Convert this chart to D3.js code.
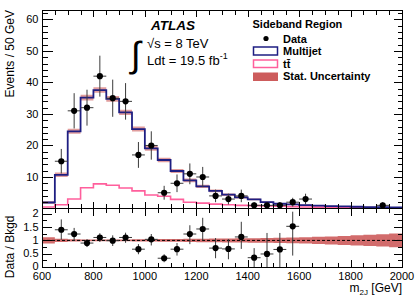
<!DOCTYPE html>
<html><head><meta charset="utf-8">
<script src="https://cdn.jsdelivr.net/npm/d3@7"></script>
<style>body{margin:0;background:#fff} svg{display:block} text{font-family:'Liberation Sans',Arial,Helvetica,sans-serif;fill:#000}</style>
</head><body><svg id="c" width="415" height="298"></svg>
<script>
// ---- data ----
const binEdges=[600,650,700,750,800,850,900,950,1000,1050,1100,1150,1200,1250,1300,1350,1400,1450,1500,1550,1600,1650,1700,1750,1800,1850,1900,1950,2000];
const multijet=[1.9,10.7,24.5,35.2,37.6,34.8,30.5,25.2,19.1,15.4,11.9,8.9,7.0,5.6,4.4,3.5,2.9,2.0,1.5,1.3,1.1,0.9,0.75,0.65,0.55,0.45,0.4,0.35];
const ttbar=[0.5,1.2,3.0,6.6,7.8,7.4,6.5,5.6,4.3,3.9,2.9,2.0,1.7,1.4,1.2,1.0,0.9,0.8,0.7,0.6,0.5,0.45,0.4,0.35,0.3,0.25,0.2,0.2];
const bkgStatErr=[0.4,0.7,0.8,0.9,0.9,0.9,0.85,0.8,0.75,0.7,0.65,0.6,0.5,0.45,0.4,0.35,0.3,0.25,0.2,0.18,0.15,0.14,0.12,0.11,0.1,0.1,0.09,0.09];
const ratioBand=[0.12,0.06,0.04,0.035,0.035,0.035,0.035,0.04,0.045,0.05,0.055,0.06,0.065,0.07,0.075,0.08,0.085,0.09,0.1,0.11,0.12,0.135,0.15,0.17,0.19,0.21,0.23,0.26];
const dataX=[675,725,775,825,875,925,975,1025,1075,1125,1175,1225,1275,1325,1375,1425,1475,1525,1575,1625,1925];
const dataY=[15,31,32,42,35,34,17,20,5,8,11,10,4,3,4,1,1,1,2,3,1];
const dataErr=[3.9,5.6,5.7,6.5,5.9,5.8,4.1,4.5,2.2,2.8,3.3,3.2,2.0,1.7,2.0,1.0,1.0,1.0,1.4,1.7,1.0];
const ratioX=[675,725,775,825,875,925,975,1025,1075,1125,1175,1225,1275,1325,1375,1425,1475,1525,1575];
const ratioY=[1.40,1.24,0.90,1.11,0.99,1.11,0.67,1.04,0.33,0.67,1.24,1.43,0.71,0.68,1.13,0.35,0.49,0.66,1.53];
const ratioLo=[1.03,0.99,0.75,0.94,0.79,0.91,0.48,0.81,0.18,0.43,0.86,0.99,0.33,0.29,0.68,0.0,0.0,0.0,0.43];
const ratioHi=[1.79,1.47,1.05,1.27,1.19,1.29,0.86,1.24,0.48,0.90,1.57,1.85,1.09,1.05,1.70,0.71,1.28,1.28,2.08];
const xTickLabels=[600,800,1000,1200,1400,1600,1800,2000];
const yTicksTop=[10,20,30,40,50,60];
const yTicksRatio=[0,0.5,1,1.5,2];

// ---- layout ----
const svg=d3.select('#c');
const L=42,R=402,T=10,MID=208.5,B=267;
const x=d3.scaleLinear().domain([600,2000]).range([L,R]);
const y=d3.scaleLinear().domain([0,63]).range([MID,T]);
const yr=d3.scaleLinear().domain([0,2.2]).range([B,MID]);
const blue='#1e1e82', pink='#ff5f9c', band='#cd5c5c';

svg.append('defs').html(`<clipPath id="ct"><rect x="${L}" y="${T}" width="${R-L}" height="${MID-T}"/></clipPath><clipPath id="cr"><rect x="${L}" y="${MID}" width="${R-L}" height="${B-MID}"/></clipPath>`);
const gt=svg.append('g').attr('clip-path','url(#ct)');
const gr=svg.append('g').attr('clip-path','url(#cr)');

function stepPts(vals){const p=[];vals.forEach((v,i)=>{p.push([binEdges[i],v]);p.push([binEdges[i+1],v]);});return p;}
function bandArea(vals,errs,ys){
  const a=d3.area().x(d=>x(d[0])).y0(d=>ys(d[1]-d[2])).y1(d=>ys(d[1]+d[2]));
  const p=[];vals.forEach((v,i)=>{p.push([binEdges[i],v,errs[i]]);p.push([binEdges[i+1],v,errs[i]]);});
  return a(p);
}
gt.append('path').attr('d',bandArea(multijet,bkgStatErr,y)).attr('fill',band).attr('opacity',0.6);
const ln=d3.line().x(d=>x(d[0])).y(d=>y(d[1]));
gt.append('path').attr('d',ln(stepPts(ttbar))).attr('fill','none').attr('stroke',pink).attr('stroke-width',1.6);
gt.append('path').attr('d',ln(stepPts(multijet))).attr('fill','none').attr('stroke',blue).attr('stroke-width',1.8);
const ec='#3a3a3a';
dataX.forEach((cx,i)=>{
  gt.append('line').attr('x1',x(cx-25)).attr('x2',x(cx+25)).attr('y1',y(dataY[i])).attr('y2',y(dataY[i])).attr('stroke',ec);
  gt.append('line').attr('x1',x(cx)).attr('x2',x(cx)).attr('y1',y(dataY[i]-dataErr[i])).attr('y2',y(dataY[i]+dataErr[i])).attr('stroke',ec);
  gt.append('circle').attr('cx',x(cx)).attr('cy',y(dataY[i])).attr('r',3.1).attr('fill','#000');
});
gr.append('path').attr('d',bandArea(binEdges.slice(0,-1).map(()=>1),ratioBand,yr)).attr('fill',band).attr('opacity',0.9);
gr.append('line').attr('x1',L).attr('x2',R).attr('y1',yr(1)).attr('y2',yr(1)).attr('stroke','#000').attr('stroke-dasharray','3,2');
ratioX.forEach((cx,i)=>{
  gr.append('line').attr('x1',x(cx-25)).attr('x2',x(cx+25)).attr('y1',yr(ratioY[i])).attr('y2',yr(ratioY[i])).attr('stroke',ec);
  gr.append('line').attr('x1',x(cx)).attr('x2',x(cx)).attr('y1',yr(ratioLo[i])).attr('y2',yr(ratioHi[i])).attr('stroke',ec);
  gr.append('circle').attr('cx',x(cx)).attr('cy',yr(ratioY[i])).attr('r',3.1).attr('fill','#000');
});

// ---- frames & ticks ----
const fr=svg.append('g').attr('stroke','#000').attr('fill','none').attr('shape-rendering','crispEdges');
fr.append('rect').attr('x',L).attr('y',T).attr('width',R-L).attr('height',MID-T);
fr.append('rect').attr('x',L).attr('y',MID).attr('width',R-L).attr('height',B-MID);
function tick(x1,y1,x2,y2){fr.append('line').attr('x1',x1).attr('y1',y1).attr('x2',x2).attr('y2',y2);}
for(let v=600;v<=2000;v+=50){
  const maj=(v%200===0);const px=Math.round(x(v))+0.5;
  const lt=maj?7:4.5;
  tick(px,MID,px,MID-lt); tick(px,T,px,T+lt);
  tick(px,MID,px,MID+lt); tick(px,B,px,B-lt);
}
for(let v=2;v<=62;v+=2){
  const maj=(v%10===0);const py=Math.round(y(v))+0.5;
  tick(L,py,L+(maj?11:5.5),py); tick(R,py,R-(maj?8:4),py);
}
for(let v=0.25;v<=2.2;v+=0.25){
  const maj=(Math.abs(v*2-Math.round(v*2))<1e-6);const py=Math.round(yr(v))+0.5;
  tick(L,py,L+(maj?10:5),py); tick(R,py,R-(maj?8:4),py);
}
const fs='11px';
yTicksTop.forEach(v=>svg.append('text').attr('x',38.5).attr('y',y(v)+4).attr('text-anchor','end').attr('font-size',fs).text(v));
yTicksRatio.forEach(v=>svg.append('text').attr('x',38.5).attr('y',yr(v)+(v===0?2.5:3.5)).attr('text-anchor','end').attr('font-size',fs).text(v));
xTickLabels.forEach(v=>svg.append('text').attr('x',x(v)).attr('y',279.5).attr('text-anchor','middle').attr('font-size',fs).text(v));
svg.append('text').attr('transform','translate(14,10) rotate(-90)').attr('text-anchor','end').attr('font-size','12px').text('Events / 50 GeV');
svg.append('text').attr('transform','translate(14,215.5) rotate(-90)').attr('text-anchor','end').attr('font-size','12px').text('Data / Bkgd');
const xl=svg.append('text').attr('x',402).attr('y',291.5).attr('text-anchor','end').attr('font-size','12px');
xl.append('tspan').text('m');
xl.append('tspan').attr('dy',3).attr('font-size','8px').text('2J');
xl.append('tspan').attr('dy',-3).text(' [GeV]');

svg.append('text').attr('x',151).attr('y',29.5).attr('font-size','13.5px').attr('font-weight','bold').attr('font-style','italic').text('ATLAS');
svg.append('text').attr('x',131).attr('y',66.5).attr('font-size','36px').attr('font-family','Liberation Serif').text('∫');
svg.append('text').attr('x',147).attr('y',47.5).attr('font-size','13px').text('√s = 8 TeV');
const lt=svg.append('text').attr('x',147).attr('y',64.5).attr('font-size','13px');
lt.append('tspan').text('Ldt = 19.5 fb');
lt.append('tspan').attr('dy',-6).attr('font-size','9px').text('-1');

const lg=svg.append('g').attr('font-weight','bold').attr('font-size','11px');
lg.append('text').attr('x',252.5).attr('y',28).text('Sideband Region');
svg.append('circle').attr('cx',266).attr('cy',38.5).attr('r',2.6).attr('fill','#000');
svg.append('rect').attr('x',253.5).attr('y',47).attr('width',24).attr('height',8).attr('fill','#fff').attr('stroke',blue).attr('stroke-width',1.5);
svg.append('rect').attr('x',253.5).attr('y',60).attr('width',24).attr('height',7.5).attr('fill','#fff').attr('stroke',pink).attr('stroke-width',1.5);
svg.append('rect').attr('x',253).attr('y',72.5).attr('width',25).attr('height',8.5).attr('fill',band);
[['Data',42.5],['Multijet',55],['tt\u0304',67.5],['Stat. Uncertainty',80]].forEach(d=>lg.append('text').attr('x',283).attr('y',d[1]).text(d[0]));
</script></body></html>
